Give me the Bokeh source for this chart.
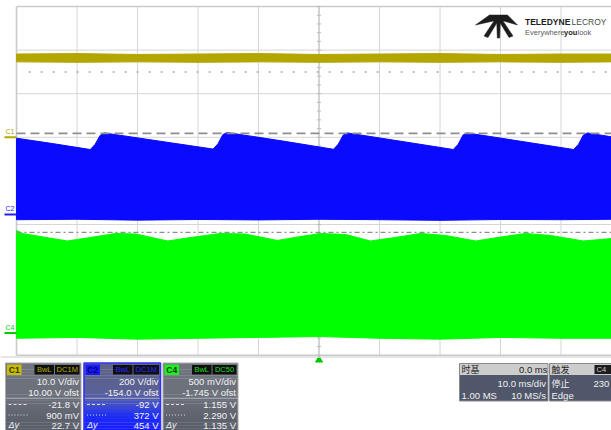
from bokeh.plotting import figure
from bokeh.models import Range1d
from bokeh.embed import file_html
from bokeh.resources import INLINE
from bokeh.core.properties import value

W, H = 611, 430

# ---------------- acquisition settings ----------------
TIME_PER_DIV_MS = 10.0
TRIGGER_TIME_MS = 0.0
C1_VDIV, C1_OFST = 10.0, 10.0
C2_VDIV, C2_OFST = 200.0, -154.0
C4_VDIV, C4_OFST = 0.5, -1.745

# horizontal cursors, in volts on C1
CURSOR_A_V = -21.8
CURSOR_B_V = 0.9

# ---------------- trace envelopes (time in ms, volts) ----------------
c1_t = [-50, -40, -30, -20, -10, 0, 10, 20, 30, 40, 48.4]
c1_top = [19.1, 19.2, 19.0, 19.1, 19.2, 19.0, 19.1, 19.2, 19.0, 19.1, 19.1]
c1_bot = [17.3, 17.2, 17.3, 17.2, 17.3, 17.2, 17.3, 17.2, 17.3, 17.2, 17.3]

c2_top_t = [-50, -44, -37.8, -37.0, -36.2, -35.5, -26.5, -17.5, -16.7, -15.9, -15.2,
            -6.0, 2.4, 3.2, 4.0, 4.7, 13.5, 22.2, 23.0, 23.8, 24.5, 33.3, 42.1,
            42.9, 43.7, 44.4, 48.4]
c2_top_v = [350, 325, 298, 322, 362, 374, 337, 300, 324, 366, 376,
            337, 299, 323, 364, 374, 336, 298, 322, 364, 374, 336, 298,
            322, 364, 374, 356]
c2_bot_t = [-50, -40, -30, -20, -10, 0, 10, 20, 30, 40, 48.4]
c2_bot_v = [-24, -22, -26, -23, -25, -22, -24, -27, -23, -24, -22]

c4_top_t = [-50, -49.0, -41.6, -37.8, -33.6, -30.3, -25.0, -21.2, -16.3, -12.2, -6.9,
            -3.1, 0.3, 4.4, 8.5, 12.6, 16.8, 20.9, 25.9, 30.0, 34.1, 38.3, 43.7, 48.4]
c4_top_v = [1.176, 1.142, 1.056, 1.096, 1.142, 1.136, 1.056, 1.096, 1.142, 1.136, 1.062,
            1.107, 1.142, 1.130, 1.056, 1.096, 1.142, 1.119, 1.056, 1.101, 1.142, 1.119,
            1.056, 1.084]
c4_bot_t = [-50, -40, -30, -20, -10, 0, 10, 20, 30, 40, 48.4]
c4_bot_v = [-0.06, -0.05, -0.07, -0.06, -0.05, -0.04, -0.06, -0.07, -0.05, -0.06, -0.06]

# ---------------- readouts ----------------
c1_readout = ["10.0 V/div", "10.00 V ofst", "-21.8 V", "900 mV", "22.7 V"]
c2_readout = ["200 V/div", "-154.0 V ofst", "-92 V", "372 V", "454 V"]
c4_readout = ["500 mV/div", "-1.745 V ofst", "1.155 V", "2.290 V", "1.135 V"]
timebase_readout = ["0.0 ms", "10.0 ms/div", "1.00 MS", "10 MS/s"]
trigger_readout = ["停止", "230", "Edge"]

# ---------------- screen geometry ----------------
GRID_LEFT_PX = 16.0
DIV_W_PX = 60.5
CENTER_Y_PX = 180.4
DIV_H_PX = 43.6

x_start = -5 * TIME_PER_DIV_MS - GRID_LEFT_PX / DIV_W_PX * TIME_PER_DIV_MS
x_end = x_start + W / DIV_W_PX * TIME_PER_DIV_MS
y_top = CENTER_Y_PX / DIV_H_PX
y_bottom = y_top - H / DIV_H_PX


def sx(px):
    return x_start + px / DIV_W_PX * TIME_PER_DIV_MS


def sy(py):
    return y_top - py / DIV_H_PX


def to_div(volts, vdiv, ofst):
    return [(v + ofst) / vdiv for v in volts]


def blend(a, b, f):
    a = [int(a[i:i + 2], 16) for i in (1, 3, 5)]
    b = [int(b[i:i + 2], 16) for i in (1, 3, 5)]
    return "#%02x%02x%02x" % tuple(round(a[k] + (b[k] - a[k]) * f) for k in range(3))


def stops_color(stops, y):
    if y <= stops[0][0]:
        return stops[0][1]
    for (y0, c0), (y1, c1) in zip(stops, stops[1:]):
        if y <= y1:
            return blend(c0, c1, (y - y0) / (y1 - y0))
    return stops[-1][1]


FONT = value("Liberation Sans")
CJK = value("Noto Sans CJK SC")

p = figure(width=W, height=H, x_range=Range1d(x_start, x_end), y_range=Range1d(y_bottom, y_top),
           x_axis_type=None, y_axis_type=None, toolbar_location=None, output_backend="svg",
           min_border=0, outline_line_color=None,
           background_fill_color="white", border_fill_color="white")


def box(l, t, r, b, fill, line=None, lw=1.0):
    p.quad(left=[sx(l)], right=[sx(r)], top=[sy(t)], bottom=[sy(b)],
           fill_color=fill, line_color=line, line_width=lw)


def label(x, y, s, color, size="9.5px", align="left", font=FONT, style="normal"):
    p.text(x=[sx(x)], y=[sy(y)], text=[s], text_color=color, text_font=font,
           text_font_size=size, text_align=align, text_baseline="middle",
           text_font_style=style)


# ---------------- graticule ----------------
t_left = -5 * TIME_PER_DIV_MS
t_right = 5 * TIME_PER_DIV_MS
v_lines = [t_left + k * TIME_PER_DIV_MS for k in range(1, 10)]
p.segment(x0=v_lines, y0=[-4] * 9, x1=v_lines, y1=[4] * 9, line_color="#d6d6d6", line_width=1)
h_lines = [-3, -2, -1, 0, 1, 2, 3]
p.segment(x0=[t_left] * 7, y0=h_lines, x1=[t_right] * 7, y1=h_lines, line_color="#d6d6d6", line_width=1)
# outer frame
p.segment(x0=[t_left, t_left, t_left], y0=[-4, 4, -4], x1=[t_left, t_right, t_right], y1=[4, 4, -4],
          line_color="#cacaca", line_width=1.6)
# centre cross ticks
tk_y = [k * 0.2 for k in range(-20, 21)]
dx = 0.35
p.segment(x0=[-dx] * len(tk_y), y0=tk_y, x1=[dx] * len(tk_y), y1=tk_y, line_color="#bdbdbd", line_width=1)
p.segment(x0=[0], y0=[-4], x1=[0], y1=[4], line_color="#bdbdbd", line_width=1)
tk_x = [t_left + 2 * k for k in range(0, 51)]
p.segment(x0=tk_x, y0=[-0.05] * len(tk_x), x1=tk_x, y1=[0.05] * len(tk_x), line_color="#bdbdbd", line_width=1)
# dotted half-division line
p.segment(x0=[t_left + 2], y0=[2.5], x1=[t_right], y1=[2.5], line_color="#a8a8a8", line_width=1.5,
          line_dash="2 10")


# ---------------- traces ----------------
def band(top_t, top_v, bot_t, bot_v, vdiv, ofst, color):
    xs = list(top_t) + list(bot_t)[::-1]
    ys = to_div(top_v, vdiv, ofst) + to_div(bot_v, vdiv, ofst)[::-1]
    p.patch(xs, ys, fill_color=color, line_color=color, line_width=1)


band(c1_t, c1_top, c1_t, c1_bot, C1_VDIV, C1_OFST, "#b3a600")
band(c2_top_t, c2_top_v, c2_bot_t, c2_bot_v, C2_VDIV, C2_OFST, "#0a0aff")
band(c4_top_t, c4_top_v, c4_bot_t, c4_bot_v, C4_VDIV, C4_OFST, "#00ff00")

# ---------------- cursors ----------------
cur_a = to_div([CURSOR_A_V], C1_VDIV, C1_OFST)[0]
cur_b = to_div([CURSOR_B_V], C1_VDIV, C1_OFST)[0]
p.segment(x0=[t_left], y0=[cur_b], x1=[x_end], y1=[cur_b], line_color="#8e8e8e", line_width=1.6,
          line_dash="9 5")
p.segment(x0=[t_left], y0=[cur_a], x1=[x_end], y1=[cur_a], line_color="#8e8e8e", line_width=1.4,
          line_dash="5 3 2 3")

# ---------------- channel ground markers ----------------
for name, vdiv, ofst, col in [("C1", C1_VDIV, C1_OFST, "#b3a600"),
                              ("C2", C2_VDIV, C2_OFST, "#2020ff"),
                              ("C4", C4_VDIV, C4_OFST, "#00cc00")]:
    lvl = to_div([0.0], vdiv, ofst)[0]
    p.segment(x0=[sx(4)], y0=[lvl], x1=[sx(16)], y1=[lvl], line_color=col, line_width=2)
    p.text(x=[sx(9.5)], y=[lvl + 2.5 / DIV_H_PX], text=[name], text_color=col, text_font=FONT,
           text_font_size="7px", text_align="center", text_baseline="bottom")

# trigger position marker
p.scatter(x=[TRIGGER_TIME_MS], y=[sy(359.5)], marker="triangle", size=7, fill_color="#00c800",
          line_color="#00c800")

# bottom rule below the graticule
p.segment(x0=[sx(0)], y0=[sy(356.5)], x1=[x_end], y1=[sy(356.5)], line_color="#dcdcdc", line_width=1.5)


# ---------------- channel readout panels ----------------
ROW_Y = [381, 392, 404, 414.5, 424.5]


def channel_panel(l, r, name, tag_fill, tag_text, badge_col, badges, readout, stops, border, bw):
    top, bottom = 362.5, 431
    n = 22
    step = (bottom - top) / n
    lefts, rights, tops, bots, cols = [], [], [], [], []
    for i in range(n):
        y0 = top + i * step
        lefts.append(sx(l)); rights.append(sx(r))
        tops.append(sy(y0)); bots.append(sy(y0 + step + 0.3))
        cols.append(stops_color(stops, y0 + step / 2))
    p.quad(left=lefts, right=rights, top=tops, bottom=bots, fill_color=cols, line_color=None)
    p.segment(x0=[sx(l)], y0=[sy(398)], x1=[sx(r)], y1=[sy(398)], line_color="#9a9fab", line_width=1)
    # header
    box(l + 1.5, 364, l + 16, 374.5, tag_fill)
    label(l + 8.75, 369.3, name, tag_text, size="8.5px", align="center", style="bold")
    box(l + 29, 364.5, l + 48.5, 374, "#101010")
    box(l + 49.5, 364.5, r - 1.5, 374, "#101010")
    label(l + 38.75, 369.3, badges[0], badge_col, size="7.5px", align="center")
    label((l + 49.5 + r - 1.5) / 2, 369.3, badges[1], badge_col, size="7.5px", align="center")
    # readout rows
    for txt, yy in zip(readout, ROW_Y):
        label(r - 2, yy, txt, "#f2f2f2", size="9.5px", align="right")
    p.segment(x0=[sx(l + 3)], y0=[sy(ROW_Y[2])], x1=[sx(l + 22)], y1=[sy(ROW_Y[2])], line_color="#dcdcdc",
              line_width=1, line_dash="3 2")
    p.segment(x0=[sx(l + 3)], y0=[sy(ROW_Y[3])], x1=[sx(l + 22)], y1=[sy(ROW_Y[3])], line_color="#dcdcdc",
              line_width=1, line_dash="1 2")
    label(l + 3, ROW_Y[4], "Δy", "#f2f2f2", size="9px", style="italic")
    p.quad(left=[sx(l)], right=[sx(r)], top=[sy(top)], bottom=[sy(bottom)], fill_color=None,
           line_color=border, line_width=bw)


gray_stops = [(362, "#707580"), (398, "#6a6f7a"), (431, "#555a65")]
blue_stops = [(362, "#5d6385"), (392, "#5a6196"), (404, "#4350c8"), (414, "#2232f2"), (431, "#1216ff")]

channel_panel(5, 80.5, "C1", "#c9bd00", "#3a3500", "#b8ab00", ["BwL", "DC1M"], c1_readout,
              gray_stops, "#a8a8a8", 1)
channel_panel(83.5, 160, "C2", "#1a1aff", "#000066", "#2a2aff", ["BwL", "DC1M"], c2_readout,
              blue_stops, "#3030ff", 1.6)
channel_panel(162.5, 237.5, "C4", "#22ee22", "#004400", "#22dd22", ["BwL", "DC50"], c4_readout,
              gray_stops, "#a8a8a8", 1)

# ---------------- timebase and trigger panels ----------------
box(459, 363, 547.5, 374.5, "#cdcdcd")
box(459, 374.5, 547.5, 400.5, "#50576a")
p.quad(left=[sx(459)], right=[sx(547.5)], top=[sy(363)], bottom=[sy(400.5)], fill_color=None,
       line_color="#8a8a8a", line_width=1)
label(461, 368.8, "时基", "#222222", size="9px", font=CJK)
label(547, 368.8, timebase_readout[0], "#222222", size="9.5px", align="right")
label(545.5, 383, timebase_readout[1], "#f0f0f0", size="9.5px", align="right")
label(461, 394.5, timebase_readout[2], "#f0f0f0", size="9.5px")
label(545.5, 394.5, timebase_readout[3], "#f0f0f0", size="9.5px", align="right")

box(549, 363, 625, 374.5, "#cdcdcd")
box(549, 374.5, 625, 400.5, "#50576a")
p.quad(left=[sx(549)], right=[sx(625)], top=[sy(363)], bottom=[sy(400.5)], fill_color=None,
       line_color="#8a8a8a", line_width=1)
label(551, 368.8, "触发", "#222222", size="9px", font=CJK)
box(594, 364.5, 613, 373.5, "#1c1c1c")
label(596, 369.2, "C4", "#cfcfcf", size="7.5px")
label(551, 383, trigger_readout[0], "#f0f0f0", size="9px", font=CJK)
label(593, 383, trigger_readout[1], "#f0f0f0", size="9.5px")
label(551, 394.5, trigger_readout[2], "#f0f0f0", size="9.5px")

# ---------------- logo ----------------
emblem = [
    [(475, 24.5), (489, 14.5), (507, 14.5), (517, 24.5), (503, 20.5), (493, 20.5)],
    [(493.5, 20.5), (497.5, 20.5), (487.5, 37), (483.5, 35.5)],
    [(496.2, 20.5), (499.8, 20.5), (499.2, 37.5), (496.8, 37.5)],
    [(498.5, 20.5), (502.5, 20.5), (512.5, 35.5), (508.5, 37)],
]
p.patches(xs=[[sx(a) for a, b in poly] for poly in emblem],
          ys=[[sy(b) for a, b in poly] for poly in emblem],
          fill_color="#1c1c1c", line_color="#1c1c1c", line_width=0.5)
label(524.5, 21, "TELEDYNE", "#1e1e1e", size="8.5px", style="bold")
label(571, 21, "LECROY", "#4a4a4a", size="8.5px")
label(524.5, 31.5, "Everywhere", "#5a5a5a", size="7.5px")
label(563.5, 31.5, "you", "#1e1e1e", size="7.5px", style="bold")
label(577, 31.5, "look", "#5a5a5a", size="7.5px")

open("out.html", "w").write(file_html(p, INLINE))
